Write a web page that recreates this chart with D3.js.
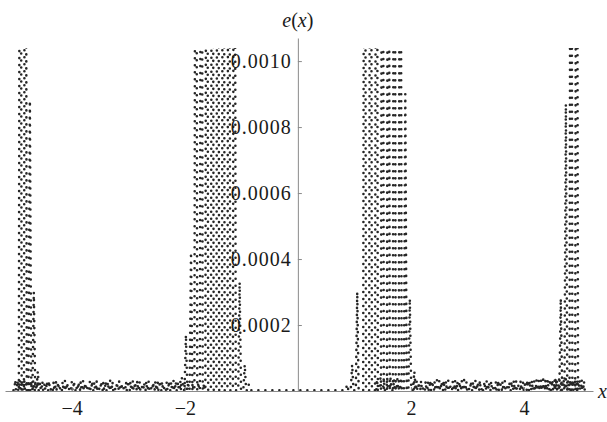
<!DOCTYPE html>
<html>
<head>
<meta charset="utf-8">
<script src="https://cdn.jsdelivr.net/npm/d3@7"></script>
<style>
  html, body { margin: 0; padding: 0; background: #fff; }
  svg { display: block; }
</style>
</head>
<body>
<svg id="chart" width="607" height="422"></svg>
<script>
// Error curve e(x): large spikes (x positions and peak heights)
const spikeX = [
  -4.91, -4.82, -4.74, -4.67, -4.60,
  -2.05, -1.98, -1.89, -1.805, -1.708, -1.611, -1.513, -1.416, -1.319, -1.221, -1.124, -1.03, -0.94, -0.87,
  0.87, 0.96, 1.05, 1.18, 1.285, 1.39, 1.495, 1.60, 1.705, 1.81, 1.90, 1.98, 2.06,
  4.56, 4.65, 4.74, 4.83, 4.93
];
const spikeY = [
  0.003, 0.003, 0.00088, 0.00030, 0.00006,
  0.00004, 0.00017, 0.00042, 0.003, 0.003, 0.003, 0.003, 0.003, 0.003, 0.003, 0.003, 0.00033, 0.00008, 0.00002,
  0.00002, 0.00008, 0.00030, 0.003, 0.003, 0.003, 0.003, 0.003, 0.003, 0.003, 0.00090, 0.00028, 0.00006,
  0.00004, 0.00028, 0.00087, 0.003, 0.003
];

// Small ripples along the axis away from the origin
const rippleX = [
  -5.00, -4.96, -4.92, -4.88, -4.84, -4.80, -4.76, -4.72, -4.68, -4.64,
  -4.60, -4.56, -4.52, -4.48, -4.44, -4.40, -4.36, -4.32, -4.28, -4.24,
  -4.20, -4.16, -4.12, -4.08, -4.04, -4.00, -3.96, -3.92, -3.88, -3.84,
  -3.80, -3.76, -3.72, -3.68, -3.64, -3.60, -3.56, -3.52, -3.48, -3.44,
  -3.40, -3.36, -3.32, -3.28, -3.24, -3.20, -3.16, -3.12, -3.08, -3.04,
  -3.00, -2.96, -2.92, -2.88, -2.84, -2.80, -2.76, -2.72, -2.68, -2.64,
  -2.60, -2.56, -2.52, -2.48, -2.44, -2.40, -2.36, -2.32, -2.28, -2.24,
  -2.20, -2.16, -2.12, -2.08,
  -2.00, -1.94, -1.86, -1.76, -1.66,
  1.40, 1.46, 1.52, 1.58, 1.64, 1.70, 1.76, 1.82,
  2.06, 2.10, 2.14, 2.18, 2.22, 2.26, 2.30, 2.34, 2.38, 2.42,
  2.46, 2.50, 2.54, 2.58, 2.62, 2.66, 2.70, 2.74, 2.78, 2.82,
  2.86, 2.90, 2.94, 2.98, 3.02, 3.06, 3.10, 3.14, 3.18, 3.22,
  3.26, 3.30, 3.34, 3.38, 3.42, 3.46, 3.50, 3.54, 3.58, 3.62,
  3.66, 3.70, 3.74, 3.78, 3.82, 3.86, 3.90, 3.94, 3.98, 4.02,
  4.06, 4.10, 4.14, 4.18, 4.22, 4.26, 4.30, 4.34, 4.38, 4.42,
  4.46, 4.50, 4.54, 4.58, 4.62, 4.66, 4.70, 4.74, 4.78, 4.82,
  4.86, 4.90, 4.94, 4.98, 5.02, 5.06
];
const rippleY = [
  3.4e-5, 3.2e-5, 3.5e-5, 3.3e-5, 3.4e-5, 3.1e-5, 3.3e-5, 3.0e-5, 3.2e-5, 2.8e-5,
  3.1e-5, 2.6e-5, 3.0e-5, 2.4e-5, 2.9e-5, 3.1e-5, 1.2e-5, 2.8e-5, 3.0e-5, 2.7e-5,
  1.4e-5, 2.9e-5, 3.1e-5, 2.6e-5, 1.0e-5, 2.8e-5, 3.0e-5, 1.6e-5, 2.7e-5, 2.9e-5,
  3.1e-5, 2.5e-5, 1.2e-5, 2.8e-5, 3.0e-5, 2.7e-5, 3.1e-5, 1.1e-5, 2.9e-5, 2.6e-5,
  3.0e-5, 2.8e-5, 3.1e-5, 2.9e-5, 1.3e-5, 2.7e-5, 3.0e-5, 2.4e-5, 1.0e-5, 2.8e-5,
  3.1e-5, 2.9e-5, 3.0e-5, 2.7e-5, 3.1e-5, 2.8e-5, 1.5e-5, 2.6e-5, 3.0e-5, 2.9e-5,
  1.2e-5, 2.7e-5, 3.0e-5, 2.8e-5, 3.1e-5, 2.9e-5, 1.4e-5, 2.6e-5, 3.0e-5, 2.8e-5,
  3.1e-5, 2.9e-5, 2.7e-5, 3.0e-5,
  2.6e-5, 2.8e-5, 2.5e-5, 2.7e-5, 2.4e-5,
  3.6e-5, 3.8e-5, 3.9e-5, 3.8e-5, 3.9e-5, 3.7e-5, 3.6e-5, 3.2e-5,
  2.9e-5, 3.1e-5, 2.7e-5, 3.2e-5, 1.3e-5, 3.0e-5, 2.8e-5, 3.2e-5, 3.0e-5, 2.9e-5,
  3.3e-5, 3.1e-5, 2.8e-5, 3.2e-5, 3.0e-5, 3.1e-5, 1.5e-5, 2.9e-5, 3.2e-5, 3.0e-5,
  2.8e-5, 3.1e-5, 3.3e-5, 2.9e-5, 1.2e-5, 3.0e-5, 2.8e-5, 3.1e-5, 2.7e-5, 3.2e-5,
  1.4e-5, 2.9e-5, 3.1e-5, 2.6e-5, 3.0e-5, 1.1e-5, 2.8e-5, 3.2e-5, 3.0e-5, 2.9e-5,
  3.1e-5, 1.3e-5, 2.7e-5, 3.0e-5, 3.2e-5, 2.9e-5, 1.6e-5, 3.1e-5, 2.8e-5, 3.0e-5,
  3.3e-5, 3.1e-5, 3.2e-5, 2.9e-5, 3.4e-5, 3.2e-5, 3.3e-5, 3.5e-5, 3.3e-5, 3.4e-5,
  3.6e-5, 3.4e-5, 3.5e-5, 3.3e-5, 3.6e-5, 3.4e-5, 3.5e-5, 3.6e-5, 3.4e-5, 3.5e-5,
  3.6e-5, 3.4e-5, 3.5e-5, 3.3e-5, 3.4e-5, 3.0e-5
];

const baseLevel = 2e-6;       // curve floor between spikes
const spikeHalf = 0.025;      // half width of a large spike (x units)
const rippleHalf = 0.014;     // half width of a ripple (x units)
const xStart = -5.03, xEnd = 5.09;

const yTicks = [0.0002, 0.0004, 0.0006, 0.0008, 0.0010];
const yMinor = [0.0001, 0.0003, 0.0005, 0.0007, 0.0009];
const xTicks = [-4, -2, 2, 4];
const xMinor = [-5, -4.5, -3.5, -3, -2.5, -1.5, -1, -0.5, 0.5, 1, 1.5, 2.5, 3, 3.5, 4.5, 5];

const svg = d3.select("#chart");
const x = d3.scaleLinear().domain([-5.18, 5.22]).range([5, 593]);
const y = d3.scaleLinear().domain([0, 0.00107]).range([391, 38]);
const yClip = 0.00104;

// Build the curve vertices from the spike lists
const peaks = [];
spikeX.forEach((v, i) => peaks.push({ x: v, y: spikeY[i], h: spikeHalf }));
rippleX.forEach((v, i) => peaks.push({ x: v, y: rippleY[i], h: rippleHalf }));
peaks.sort((a, b) => a.x - b.x);
const pts = [{ x: xStart, y: baseLevel }];
peaks.forEach(p => {
  pts.push({ x: p.x - p.h, y: baseLevel });
  pts.push({ x: p.x, y: p.y });
  pts.push({ x: p.x + p.h, y: baseLevel });
});
pts.push({ x: xEnd, y: baseLevel });

svg.append("clipPath").attr("id", "plotClip")
  .append("rect")
  .attr("x", 0).attr("y", y(yClip))
  .attr("width", 607).attr("height", 422 - y(yClip));

const line = d3.line().x(d => x(d.x)).y(d => y(d.y));
svg.append("path")
  .datum(pts)
  .attr("clip-path", "url(#plotClip)")
  .attr("d", line)
  .attr("fill", "none")
  .attr("stroke", "#262626")
  .attr("stroke-width", 2.6)
  .attr("stroke-linecap", "round")
  .attr("stroke-linejoin", "round")
  .attr("stroke-dasharray", "0 7");

const axisColor = "#8a8a8a";
const font = "'Liberation Serif', 'Times New Roman', serif";

// x axis
const gx = svg.append("g").attr("transform", `translate(0,${y(0)})`);
gx.call(d3.axisBottom(x).tickValues(xMinor).tickSizeInner(-2).tickSizeOuter(0).tickFormat(""));
gx.call(d3.axisBottom(x).tickValues(xTicks).tickSizeInner(-4).tickSizeOuter(0).tickPadding(10));
gx.attr("font-family", font).attr("font-size", 20);
gx.selectAll("path.domain, line").attr("stroke", axisColor);
gx.selectAll("text").attr("fill", "#1a1a1a");

// y axis
const gy = svg.append("g").attr("transform", `translate(${x(0)},0)`);
gy.call(d3.axisLeft(y).tickValues(yMinor).tickSizeInner(-2.5).tickSizeOuter(0).tickFormat(""));
gy.call(d3.axisLeft(y).tickValues(yTicks).tickSizeInner(-4).tickSizeOuter(0).tickPadding(6)
  .tickFormat(d3.format(".4f")));
gy.attr("font-family", font).attr("font-size", 20);
gy.selectAll("path.domain, line").attr("stroke", axisColor);
gy.selectAll("text").attr("letter-spacing", "1px").attr("fill", "#1a1a1a");

// axis names
const ylab = svg.append("text")
  .attr("x", x(0)).attr("y", 27)
  .attr("text-anchor", "middle")
  .attr("font-family", font).attr("font-size", 20).attr("fill", "#1a1a1a");
ylab.append("tspan").attr("font-style", "italic").text("e");
ylab.append("tspan").text("(");
ylab.append("tspan").attr("font-style", "italic").text("x");
ylab.append("tspan").text(")");

svg.append("text")
  .attr("x", 598).attr("y", 398)
  .attr("font-family", font).attr("font-size", 20).attr("font-style", "italic")
  .attr("fill", "#1a1a1a")
  .text("x");
</script>
</body>
</html>
